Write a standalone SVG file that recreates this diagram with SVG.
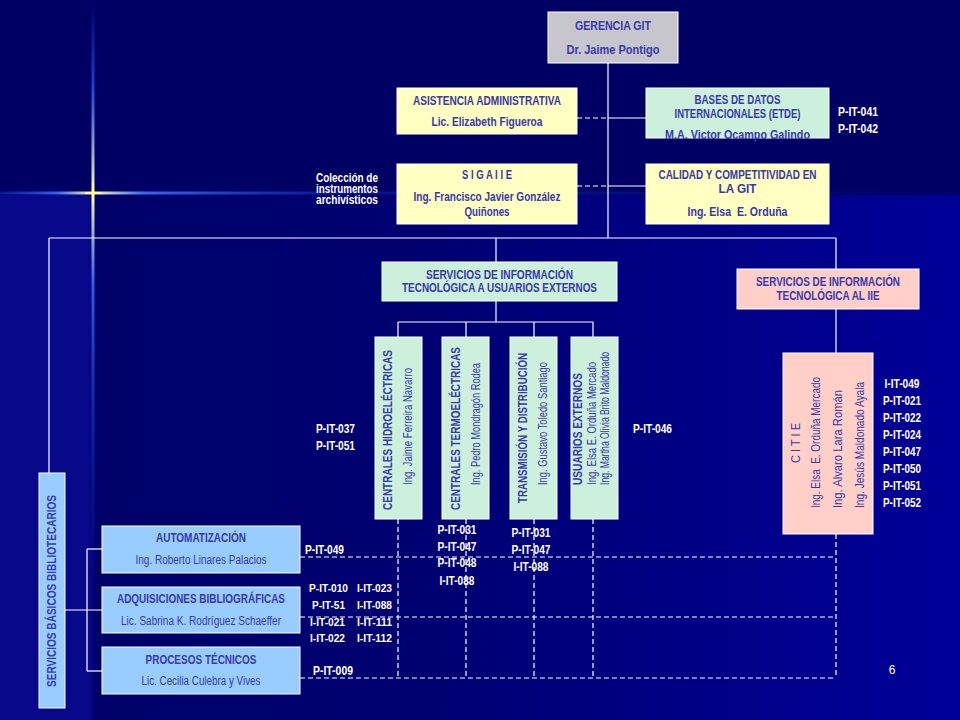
<svg xmlns="http://www.w3.org/2000/svg" width="960" height="720" viewBox="0 0 960 720">
<defs>
<style>
text{font-family:"Liberation Sans",Arial,sans-serif}
.t{fill:#3838aa;font-size:12px;text-anchor:middle}
.b{font-weight:bold}
.s{text-anchor:start}
.lbl{fill:#ffffff;font-weight:bold;font-size:12px}
.sm{font-size:11.5px}
.m{text-anchor:middle}
.box{stroke:#ffffff;stroke-width:1}
.y{fill:#ffffc2}
.g{fill:#ccf0dc}
.p{fill:#ffcfc8}
.lb{fill:#99ccff}
.ln{stroke:#ffffff;stroke-width:1.2;fill:none}
.dl{stroke:#ffffff;stroke-width:1.2;fill:none;stroke-dasharray:5 3}
</style>
<linearGradient id="bg" x1="0" y1="0" x2="960" y2="0" gradientUnits="userSpaceOnUse">
<stop offset="0" stop-color="#08088a"/>
<stop offset="0.092" stop-color="#08088a"/>
<stop offset="0.1" stop-color="#000068"/>
<stop offset="0.45" stop-color="#000072"/>
<stop offset="1" stop-color="#000098"/>
</linearGradient>
<linearGradient id="hs" x1="0" y1="0" x2="960" y2="0" gradientUnits="userSpaceOnUse">
<stop offset="0" stop-color="#1a4cff" stop-opacity="0.3"/>
<stop offset="0.06" stop-color="#3c6cff" stop-opacity="0.9"/>
<stop offset="0.097" stop-color="#ffffb0"/>
<stop offset="0.15" stop-color="#4070ff" stop-opacity="0.9"/>
<stop offset="0.35" stop-color="#1030c0" stop-opacity="0.5"/>
<stop offset="1" stop-color="#1030c0" stop-opacity="0"/>
</linearGradient>
<linearGradient id="vs" x1="0" y1="0" x2="0" y2="720" gradientUnits="userSpaceOnUse">
<stop offset="0" stop-color="#1a4cff" stop-opacity="0"/>
<stop offset="0.12" stop-color="#2a5cff" stop-opacity="0.7"/>
<stop offset="0.268" stop-color="#ffffb0"/>
<stop offset="0.4" stop-color="#3a6aff" stop-opacity="0.8"/>
<stop offset="0.68" stop-color="#1030c0" stop-opacity="0.3"/>
<stop offset="0.8" stop-color="#1030c0" stop-opacity="0"/>
</linearGradient>
</defs>

<g id="background">
<rect x="0" y="0" width="960" height="720" fill="#000064"/>
<rect x="0" y="195" width="960" height="525" fill="url(#bg)"/>
<line x1="0" y1="193" x2="960" y2="193" stroke="url(#hs)" stroke-width="3"/>
<line x1="93" y1="0" x2="93" y2="720" stroke="url(#vs)" stroke-width="3"/>
<line x1="85" y1="193" x2="101" y2="193" stroke="#ffff80" stroke-width="1.5"/>
<line x1="93" y1="183" x2="93" y2="203" stroke="#ffff80" stroke-width="1.5"/>
</g>

<g id="connectors">
<line class="ln" x1="608" y1="63" x2="608" y2="238"/>
<line class="ln" x1="608" y1="118" x2="646" y2="118"/>
<line class="dl" x1="577" y1="118" x2="608" y2="118"/>
<line class="ln" x1="608" y1="186" x2="646" y2="186"/>
<line class="dl" x1="577" y1="186" x2="608" y2="186"/>
<line class="ln" x1="49" y1="238" x2="836" y2="238"/>
<line class="ln" x1="49" y1="238" x2="49" y2="473"/>
<line class="ln" x1="496" y1="238" x2="496" y2="262"/>
<line class="ln" x1="836" y1="238" x2="836" y2="269"/>
<line class="ln" x1="496" y1="301" x2="496" y2="322"/>
<line class="ln" x1="398" y1="322" x2="593" y2="322"/>
<line class="ln" x1="398" y1="322" x2="398" y2="337"/>
<line class="ln" x1="466" y1="322" x2="466" y2="337"/>
<line class="ln" x1="534" y1="322" x2="534" y2="337"/>
<line class="ln" x1="593" y1="322" x2="593" y2="337"/>
<line class="ln" x1="836" y1="309" x2="836" y2="353"/>
<line class="ln" x1="65" y1="610" x2="102" y2="610"/>
<line class="ln" x1="87" y1="549" x2="87" y2="671"/>
<line class="ln" x1="87" y1="549" x2="102" y2="549"/>
<line class="ln" x1="87" y1="671" x2="102" y2="671"/>
<line class="dl" x1="398" y1="519" x2="398" y2="678"/>
<line class="dl" x1="466" y1="519" x2="466" y2="678"/>
<line class="dl" x1="534" y1="519" x2="534" y2="678"/>
<line class="dl" x1="593" y1="519" x2="593" y2="678"/>
<line class="dl" x1="836" y1="534" x2="836" y2="678"/>
<line class="dl" x1="300" y1="557" x2="836" y2="557"/>
<line class="dl" x1="300" y1="617" x2="836" y2="617"/>
<line class="dl" x1="300" y1="678" x2="836" y2="678"/>
</g>

<g id="gerencia">
<rect class="box" x="548" y="12" width="130" height="51" fill="#c6c6cc"/>
<text class="t b" x="613" y="30" textLength="76" lengthAdjust="spacingAndGlyphs">GERENCIA GIT</text>
<text class="t b" x="613" y="54" textLength="93" lengthAdjust="spacingAndGlyphs">Dr. Jaime Pontigo</text>
</g>

<g id="asistencia">
<rect class="box y" x="397" y="88" width="180" height="46"/>
<text class="t b" x="487" y="105" textLength="148" lengthAdjust="spacingAndGlyphs">ASISTENCIA ADMINISTRATIVA</text>
<text class="t b" x="487" y="126" textLength="111" lengthAdjust="spacingAndGlyphs">Lic. Elizabeth Figueroa</text>
</g>

<g id="bases">
<rect class="box g" x="646" y="88" width="183" height="50"/>
<text class="t b" x="737.5" y="104" textLength="86" lengthAdjust="spacingAndGlyphs">BASES DE DATOS</text>
<text class="t b" x="737.5" y="118" textLength="126" lengthAdjust="spacingAndGlyphs">INTERNACIONALES (ETDE)</text>
<text class="t b" x="737.5" y="139" textLength="145" lengthAdjust="spacingAndGlyphs">M.A. Victor Ocampo Galindo</text>
</g>

<g id="siga">
<rect class="box y" x="397" y="164" width="180" height="60"/>
<text class="t b" x="487" y="179" textLength="50" lengthAdjust="spacingAndGlyphs">S I G A I I E</text>
<text class="t b" x="487" y="201" textLength="147" lengthAdjust="spacingAndGlyphs">Ing. Francisco Javier González</text>
<text class="t b" x="487" y="216" textLength="45" lengthAdjust="spacingAndGlyphs">Quiñones</text>
</g>

<g id="calidad">
<rect class="box y" x="646" y="164" width="183" height="60"/>
<text class="t b" x="737.5" y="179" textLength="158" lengthAdjust="spacingAndGlyphs">CALIDAD Y COMPETITIVIDAD EN</text>
<text class="t b" x="737.5" y="193" textLength="38" lengthAdjust="spacingAndGlyphs">LA GIT</text>
<text class="t b" x="737.5" y="216" textLength="100" lengthAdjust="spacingAndGlyphs">Ing. Elsa&#160; E. Orduña</text>
</g>

<g id="etde-labels">
<text class="lbl" x="838" y="116" textLength="40" lengthAdjust="spacingAndGlyphs">P-IT-041</text>
<text class="lbl" x="838" y="133" textLength="40" lengthAdjust="spacingAndGlyphs">P-IT-042</text>
</g>

<g id="coleccion">
<text class="lbl" x="316" y="182" font-size="9.2" textLength="62" lengthAdjust="spacingAndGlyphs">Colección de</text>
<text class="lbl" x="316" y="193.2" font-size="9.2" textLength="62" lengthAdjust="spacingAndGlyphs">instrumentos</text>
<text class="lbl" x="316" y="204.4" font-size="9.2" textLength="62" lengthAdjust="spacingAndGlyphs">archivísticos</text>
</g>

<g id="sit-externos">
<rect class="box g" x="382" y="262" width="235" height="39"/>
<text class="t b" x="499.5" y="279" textLength="147" lengthAdjust="spacingAndGlyphs">SERVICIOS DE INFORMACIÓN</text>
<text class="t b" x="499.5" y="292" textLength="195" lengthAdjust="spacingAndGlyphs">TECNOLÓGICA A USUARIOS EXTERNOS</text>
</g>

<g id="sit-iie">
<rect class="box p" x="737" y="269" width="182" height="40"/>
<text class="t b" x="828" y="286" textLength="144" lengthAdjust="spacingAndGlyphs">SERVICIOS DE INFORMACIÓN</text>
<text class="t b" x="828" y="300" textLength="103" lengthAdjust="spacingAndGlyphs">TECNOLÓGICA AL IIE</text>
</g>

<g id="hidro">
<rect class="box g" x="375" y="337" width="47" height="182"/>
<text class="t b s" transform="translate(392,510) rotate(-90)" textLength="160" lengthAdjust="spacingAndGlyphs">CENTRALES HIDROELÉCTRICAS</text>
<text class="t s" transform="translate(412,485) rotate(-90)" textLength="117" lengthAdjust="spacingAndGlyphs">Ing. Jaime Ferreira Navarro</text>
</g>

<g id="termo">
<rect class="box g" x="442" y="337" width="47" height="182"/>
<text class="t b s" transform="translate(460,510) rotate(-90)" textLength="163" lengthAdjust="spacingAndGlyphs">CENTRALES TERMOELÉCTRICAS</text>
<text class="t s" transform="translate(480,485) rotate(-90)" textLength="122" lengthAdjust="spacingAndGlyphs">Ing. Pedro Mondragón Rodea</text>
</g>

<g id="transmision">
<rect class="box g" x="510" y="337" width="47" height="182"/>
<text class="t b s" transform="translate(527,503) rotate(-90)" textLength="150" lengthAdjust="spacingAndGlyphs">TRANSMISIÓN Y DISTRIBUCIÓN</text>
<text class="t s" transform="translate(547,485) rotate(-90)" textLength="123" lengthAdjust="spacingAndGlyphs">Ing. Gustavo Toledo Santiago</text>
</g>

<g id="usuarios">
<rect class="box g" x="571" y="337" width="47" height="182"/>
<text class="t b s" transform="translate(582,485) rotate(-90)" textLength="112" lengthAdjust="spacingAndGlyphs">USUARIOS EXTERNOS</text>
<text class="t s" transform="translate(596,485) rotate(-90)" textLength="123" lengthAdjust="spacingAndGlyphs">Ing. Elsa E. Orduña Mercado</text>
<text class="t s" transform="translate(609,485) rotate(-90)" textLength="133" lengthAdjust="spacingAndGlyphs">Ing. Martha Olivia Brito Maldonado</text>
</g>

<g id="citie">
<rect class="box p" x="783" y="353" width="90" height="181"/>
<text class="t" transform="translate(800,443) rotate(-90)" textLength="40" lengthAdjust="spacingAndGlyphs">C I T I E</text>
<text class="t s" transform="translate(820,508) rotate(-90)" textLength="131" lengthAdjust="spacingAndGlyphs">Ing. Elsa&#160; E. Orduña Mercado</text>
<text class="t s" transform="translate(842,508) rotate(-90)" textLength="118" lengthAdjust="spacingAndGlyphs">Ing. Alvaro Lara Román</text>
<text class="t s" transform="translate(864,508) rotate(-90)" textLength="126" lengthAdjust="spacingAndGlyphs">Ing. Jesús Maldonado Ayala</text>
</g>

<g id="sbb">
<rect class="box lb" x="39" y="473" width="26" height="235"/>
<text class="t b" transform="translate(56,591) rotate(-90)" textLength="192" lengthAdjust="spacingAndGlyphs">SERVICIOS BÁSICOS BIBLIOTECARIOS</text>
</g>

<g id="automatizacion">
<rect class="box lb" x="102" y="526" width="198" height="47"/>
<text class="t b" x="201" y="542" textLength="90" lengthAdjust="spacingAndGlyphs">AUTOMATIZACIÓN</text>
<text class="t" x="201" y="564" textLength="131" lengthAdjust="spacingAndGlyphs">Ing. Roberto Linares Palacios</text>
</g>

<g id="adquisiciones">
<rect class="box lb" x="102" y="587" width="198" height="46"/>
<text class="t b" x="201" y="603" font-size="11.5" textLength="168" lengthAdjust="spacingAndGlyphs">ADQUISICIONES BIBLIOGRÁFICAS</text>
<text class="t" x="201" y="625" font-size="11.5" textLength="160" lengthAdjust="spacingAndGlyphs">Lic. Sabrina K. Rodríguez Schaeffer</text>
</g>

<g id="procesos">
<rect class="box lb" x="102" y="647" width="198" height="47"/>
<text class="t b" x="201" y="664" textLength="111" lengthAdjust="spacingAndGlyphs">PROCESOS TÉCNICOS</text>
<text class="t" x="201" y="685" textLength="119" lengthAdjust="spacingAndGlyphs">Lic. Cecilia Culebra y Vives</text>
</g>

<g id="labels">
<text class="lbl" x="316" y="433" textLength="39" lengthAdjust="spacingAndGlyphs">P-IT-037</text>
<text class="lbl" x="316" y="450" textLength="39" lengthAdjust="spacingAndGlyphs">P-IT-051</text>
<text class="lbl" x="633" y="433" textLength="39" lengthAdjust="spacingAndGlyphs">P-IT-046</text>
<text class="lbl m" x="457" y="534" textLength="39" lengthAdjust="spacingAndGlyphs">P-IT-031</text>
<text class="lbl m" x="457" y="551" textLength="39" lengthAdjust="spacingAndGlyphs">P-IT-047</text>
<text class="lbl m" x="457" y="567" textLength="39" lengthAdjust="spacingAndGlyphs">P-IT-048</text>
<text class="lbl m" x="457" y="585" textLength="35" lengthAdjust="spacingAndGlyphs">I-IT-088</text>
<text class="lbl m" x="531" y="537" textLength="39" lengthAdjust="spacingAndGlyphs">P-IT-031</text>
<text class="lbl m" x="531" y="554" textLength="39" lengthAdjust="spacingAndGlyphs">P-IT-047</text>
<text class="lbl m" x="531" y="571" textLength="35" lengthAdjust="spacingAndGlyphs">I-IT-088</text>
<text class="lbl" x="305" y="554" textLength="39" lengthAdjust="spacingAndGlyphs">P-IT-049</text>
<text class="lbl sm" x="309" y="592" textLength="39" lengthAdjust="spacingAndGlyphs">P-IT-010</text>
<text class="lbl sm" x="312" y="609" textLength="33" lengthAdjust="spacingAndGlyphs">P-IT-51</text>
<text class="lbl sm" x="310" y="626" textLength="35" lengthAdjust="spacingAndGlyphs">I-IT-021</text>
<text class="lbl sm" x="310" y="642" textLength="35" lengthAdjust="spacingAndGlyphs">I-IT-022</text>
<text class="lbl sm" x="357" y="592" textLength="35" lengthAdjust="spacingAndGlyphs">I-IT-023</text>
<text class="lbl sm" x="357" y="609" textLength="35" lengthAdjust="spacingAndGlyphs">I-IT-088</text>
<text class="lbl sm" x="357" y="626" textLength="35" lengthAdjust="spacingAndGlyphs">I-IT-111</text>
<text class="lbl sm" x="357" y="642" textLength="35" lengthAdjust="spacingAndGlyphs">I-IT-112</text>
<text class="lbl" x="313" y="675" textLength="40" lengthAdjust="spacingAndGlyphs">P-IT-009</text>
<text class="lbl m" x="902" y="388" textLength="35" lengthAdjust="spacingAndGlyphs">I-IT-049</text>
<text class="lbl m" x="902" y="405" textLength="38" lengthAdjust="spacingAndGlyphs">P-IT-021</text>
<text class="lbl m" x="902" y="422" textLength="38" lengthAdjust="spacingAndGlyphs">P-IT-022</text>
<text class="lbl m" x="902" y="439" textLength="38" lengthAdjust="spacingAndGlyphs">P-IT-024</text>
<text class="lbl m" x="902" y="456" textLength="38" lengthAdjust="spacingAndGlyphs">P-IT-047</text>
<text class="lbl m" x="902" y="473" textLength="38" lengthAdjust="spacingAndGlyphs">P-IT-050</text>
<text class="lbl m" x="902" y="490" textLength="38" lengthAdjust="spacingAndGlyphs">P-IT-051</text>
<text class="lbl m" x="902" y="507" textLength="38" lengthAdjust="spacingAndGlyphs">P-IT-052</text>
</g>

<text x="892" y="674" font-size="12" fill="#ffffff" text-anchor="middle">6</text>
</svg>
